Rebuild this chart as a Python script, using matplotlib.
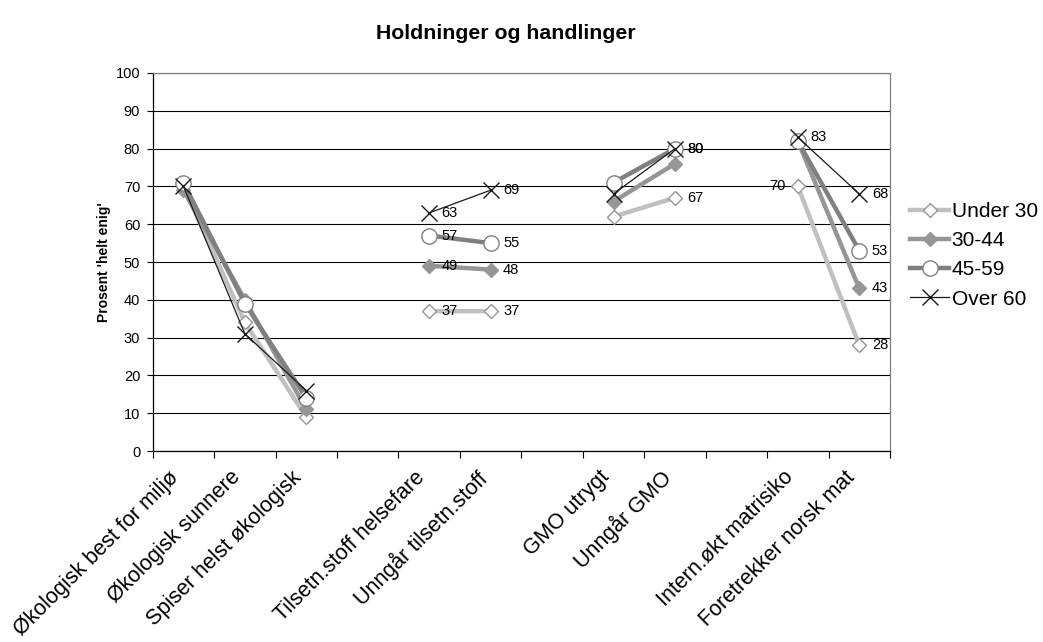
import numpy as np
import matplotlib
matplotlib.use("Agg")
import matplotlib.pyplot as plt
from matplotlib.transforms import ScaledTranslation

plt.rcParams['font.family'] = ['Liberation Sans', 'DejaVu Sans']

categories = ["Økologisk best for miljø", "Økologisk sunnere", "Spiser helst økologisk", "",
              "Tilsetn.stoff helsefare", "Unngår tilsetn.stoff", "",
              "GMO utrygt", "Unngår GMO", "",
              "Intern.økt matrisiko", "Foretrekker norsk mat"]

nan = np.nan
under30 = [70, 34, 9, nan, 37, 37, nan, 62, 67, nan, 70, 28]
age30_44 = [69, 40, 11, nan, 49, 48, nan, 66, 76, nan, 82, 43]
age45_59 = [71, 39, 14, nan, 57, 55, nan, 71, 80, nan, 82, 53]
over60 = [70, 31, 16, nan, 63, 69, nan, 68, 80, nan, 83, 68]

series_names = ["Under 30", "30-44", "45-59", "Over 60"]
series_values = [under30, age30_44, age45_59, over60]

# category indices that carry a value label, per series (side: +1 right, -1 left)
labelled = {
    "Under 30": [(4, 1), (5, 1), (8, 1), (10, -1), (11, 1)],
    "30-44": [(4, 1), (5, 1), (11, 1)],
    "45-59": [(4, 1), (5, 1), (8, 1), (11, 1)],
    "Over 60": [(4, 1), (5, 1), (8, 1), (10, 1), (11, 1)],
}

styles = {
    "Under 30": dict(color="#c0c0c0", lw=3.2, marker="D", ms=7.5, mfc="white", mec="#969696", mew=1.0),
    "30-44": dict(color="#969696", lw=3.2, marker="D", ms=7.5, mfc="#969696", mec="#969696", mew=1.0),
    "45-59": dict(color="#808080", lw=3.2, marker="o", ms=11, mfc="white", mec="#808080", mew=1.0),
    "Over 60": dict(color="#1a1a1a", lw=0.9, marker="x", ms=12, mfc="none", mec="#1a1a1a", mew=1.0),
}

fig = plt.figure(figsize=(10.43, 6.42), dpi=100)
ax = fig.add_axes([0.1464, 0.2975, 0.7069, 0.5888])

x = np.arange(len(categories))
for name, vals in zip(series_names, series_values):
    st = styles[name]
    ax.plot(x, vals, label=name, zorder=3, **st)
    for idx, side in labelled[name]:
        v = vals[idx]
        ax.annotate(f"{v:g}", (x[idx], v), xytext=(9 * side, 0), textcoords="offset points",
                    ha="left" if side > 0 else "right", va="center", fontsize=10.5, zorder=5)

ax.set_xlim(-0.5, len(categories) - 0.5)
ax.set_ylim(0, 100)
ax.set_yticks(np.arange(0, 101, 10))
ax.yaxis.grid(True, color="black", lw=0.8)
ax.set_axisbelow(True)

ax.set_xticks(np.arange(-0.5, len(categories) + 0.5, 1), minor=False)
ax.set_xticklabels([])
ax.set_xticks(x, minor=True)
ax.set_xticklabels(categories, minor=True, rotation=45, ha="right", va="top",
                   rotation_mode="anchor", fontsize=15.5)
ax.tick_params(axis="x", which="minor", length=0, pad=10)
ax.tick_params(axis="x", which="major", length=5, direction="out", width=0.8)
ax.tick_params(axis="y", length=4, direction="out", width=0.8, labelsize=10.5, pad=5)

shift = ScaledTranslation(-15 / 100, -2 / 100, fig.dpi_scale_trans)
for lab in ax.get_xticklabels(minor=True):
    lab.set_transform(lab.get_transform() + shift)

for s in ("left", "bottom"):
    ax.spines[s].set_color("black")
    ax.spines[s].set_linewidth(0.9)
for s in ("top", "right"):
    ax.spines[s].set_color("#808080")
    ax.spines[s].set_linewidth(0.9)

ax.set_ylabel("Prosent 'helt enig'", fontsize=10, fontweight="bold", labelpad=3)
fig.suptitle("Holdninger og handlinger", fontsize=15.3, fontweight="bold", x=0.485, y=0.962)

ax.legend(loc="center left", bbox_to_anchor=(1.027, 0.518), frameon=False, fontsize=15,
          handlelength=1.9, handletextpad=0.1, labelspacing=0.49, borderaxespad=0,
          borderpad=0)

fig.savefig("out.png", dpi=100)
